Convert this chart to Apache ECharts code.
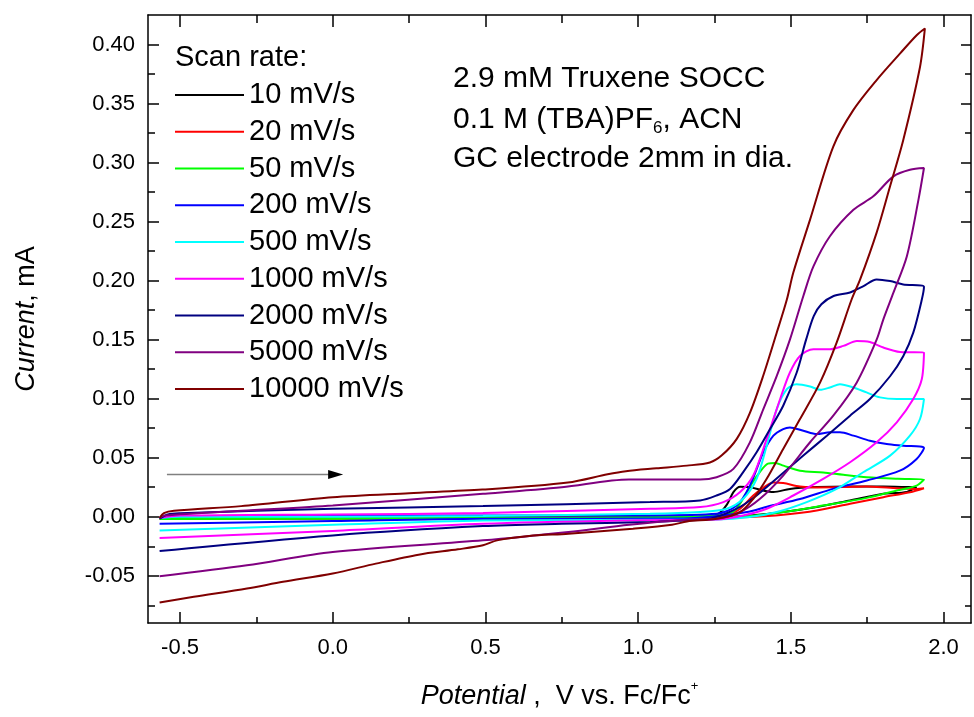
<!DOCTYPE html>
<html>
<head>
<meta charset="utf-8">
<title>Truxene SOCC cyclic voltammetry</title>
<script src="https://cdn.jsdelivr.net/npm/echarts@6.0.0/dist/echarts.min.js"></script>
<style>
  html, body { margin: 0; padding: 0; background: #fff; }
  #chart { width: 974px; height: 717px; }
</style>
</head>
<body>
<div id="chart"></div>
<script>
// Cyclic voltammograms: potential (V vs. Fc/Fc+) and current (mA), forward sweep then return sweep.
const e10 = [-0.567, -0.3, 0.0, 0.5, 1.0, 1.2, 1.26, 1.29, 1.312, 1.334, 1.366, 1.41, 1.443, 1.497, 1.585, 1.694, 1.803, 1.89, 1.91, 1.88, 1.803, 1.694, 1.585, 1.475, 1.366, 1.257, 1.0, 0.5, 0.0, -0.567];
const i10 = [-0.001, -0.0008, -0.0007, -0.0005, -0.0002, 0.0, 0.002, 0.010, 0.0209, 0.0255, 0.0251, 0.0222, 0.0209, 0.0236, 0.0251, 0.0256, 0.0256, 0.0251, 0.025, 0.021, 0.0194, 0.0138, 0.0082, 0.004, 0.0011, -0.0005, -0.0008, -0.001, -0.0012, -0.0015];

const e20 = [-0.567, 0.0, 0.5, 1.0, 1.257, 1.30, 1.334, 1.377, 1.41, 1.443, 1.475, 1.53, 1.585, 1.672, 1.748, 1.825, 1.912, 1.936, 1.89, 1.803, 1.694, 1.585, 1.475, 1.366, 1.257, 1.0, 0.5, 0.0, -0.567];
const i20 = [-0.001, -0.0009, -0.0008, -0.0006, -0.0003, 0.002, 0.0068, 0.018, 0.0245, 0.029, 0.0285, 0.0256, 0.0248, 0.0251, 0.0256, 0.0245, 0.0236, 0.0242, 0.0208, 0.0166, 0.011, 0.0053, 0.0017, -0.0003, -0.0011, -0.0013, -0.0015, -0.0017, -0.002];

const e50 = [-0.567, 0.0, 0.5, 1.039, 1.257, 1.31, 1.344, 1.372, 1.399, 1.425, 1.449, 1.476, 1.53, 1.606, 1.672, 1.749, 1.85, 1.936, 1.912, 1.847, 1.749, 1.606, 1.476, 1.366, 1.257, 0.5, -0.567];
const i50 = [-0.001, -0.0012, -0.0011, -0.0003, 0.0011, 0.004, 0.0152, 0.028, 0.038, 0.045, 0.0456, 0.0433, 0.039, 0.0375, 0.0355, 0.0335, 0.0322, 0.0315, 0.0264, 0.0222, 0.016, 0.0095, 0.004, 0.0006, -0.0008, -0.0015, -0.002];

const e200 = [-0.567, -0.5, 0.0, 0.492, 1.039, 1.257, 1.323, 1.366, 1.41, 1.443, 1.475, 1.497, 1.541, 1.585, 1.628, 1.661, 1.705, 1.759, 1.814, 1.868, 1.936, 1.912, 1.857, 1.749, 1.638, 1.53, 1.422, 1.366, 1.268, 1.15, 0.492, 0.0, -0.567];
const i200 = [-0.001, 0.0005, 0.001, 0.001, 0.0011, 0.0025, 0.0095, 0.0264, 0.0546, 0.0687, 0.0743, 0.0757, 0.0729, 0.0701, 0.0715, 0.0715, 0.0687, 0.0644, 0.0617, 0.0602, 0.0583, 0.049, 0.039, 0.0307, 0.0236, 0.015, 0.0085, 0.0045, 0.0008, -0.0015, -0.0017, -0.0036, -0.0059];

const e500 = [-0.567, -0.5, 0.0, 0.492, 1.039, 1.203, 1.29, 1.344, 1.388, 1.421, 1.454, 1.487, 1.519, 1.563, 1.596, 1.628, 1.661, 1.705, 1.748, 1.792, 1.847, 1.936, 1.923, 1.89, 1.825, 1.737, 1.65, 1.552, 1.454, 1.366, 1.257, 0.492, 0.0, -0.567];
const i500 = [-0.001, 0.0, 0.0, 0.0006, 0.0025, 0.004, 0.0068, 0.0152, 0.0321, 0.0602, 0.0912, 0.108, 0.1123, 0.1104, 0.1075, 0.1095, 0.1123, 0.1095, 0.1053, 0.1011, 0.0997, 0.0997, 0.0828, 0.0687, 0.0518, 0.0377, 0.0236, 0.0124, 0.004, -0.0003, -0.0023, -0.0031, -0.0068, -0.0116];

const e1000 = [-0.567, -0.5, 0.0, 0.492, 1.039, 1.203, 1.279, 1.334, 1.377, 1.421, 1.465, 1.497, 1.53, 1.574, 1.628, 1.672, 1.716, 1.759, 1.803, 1.858, 1.936, 1.929, 1.901, 1.847, 1.781, 1.694, 1.606, 1.508, 1.421, 1.344, 1.257, 1.0, 0.492, 0.0, -0.567];
const i1000 = [-0.001, 0.001, 0.002, 0.0031, 0.0068, 0.0082, 0.0124, 0.0209, 0.0349, 0.0659, 0.0997, 0.1222, 0.1362, 0.1419, 0.1419, 0.1447, 0.1489, 0.148, 0.1433, 0.1396, 0.1391, 0.1166, 0.0997, 0.080, 0.0631, 0.0462, 0.0321, 0.018, 0.0068, 0.0011, -0.0023, -0.003, -0.006, -0.012, -0.018];

const e2000 = [-0.567, -0.54, -0.5, 0.0, 0.492, 1.039, 1.203, 1.257, 1.301, 1.344, 1.388, 1.432, 1.475, 1.519, 1.55, 1.575, 1.6, 1.64, 1.694, 1.738, 1.781, 1.825, 1.868, 1.936, 1.929, 1.901, 1.868, 1.825, 1.759, 1.694, 1.618, 1.541, 1.465, 1.388, 1.323, 1.235, 1.148, 1.04, 0.75, 0.492, 0.0, -0.567];
const i2000 = [-0.0017, 0.002, 0.003, 0.0068, 0.009, 0.0124, 0.0138, 0.018, 0.0236, 0.0378, 0.0546, 0.0743, 0.094, 0.122, 0.15, 0.17, 0.18, 0.187, 0.19, 0.1954, 0.201, 0.1996, 0.1968, 0.1948, 0.184, 0.156, 0.136, 0.119, 0.0997, 0.0856, 0.0687, 0.0518, 0.0349, 0.018, 0.0068, -0.0017, -0.0031, -0.0045, -0.006, -0.0079, -0.0158, -0.029];

const e5000 = [-0.567, -0.55, -0.3, 0.0, 0.492, 0.75, 0.97, 1.203, 1.257, 1.312, 1.366, 1.41, 1.454, 1.497, 1.541, 1.574, 1.628, 1.705, 1.77, 1.836, 1.89, 1.936, 1.918, 1.88, 1.836, 1.803, 1.781, 1.716, 1.639, 1.563, 1.475, 1.399, 1.334, 1.257, 1.158, 0.971, 0.772, 0.492, 0.0, -0.281, -0.567];
const i5000 = [-0.001, 0.001, 0.005, 0.0095, 0.0194, 0.025, 0.0315, 0.0315, 0.0335, 0.0405, 0.063, 0.0912, 0.1193, 0.15, 0.187, 0.212, 0.2376, 0.26, 0.2714, 0.2883, 0.2939, 0.2954, 0.2686, 0.2207, 0.1898, 0.1672, 0.15, 0.1138, 0.0856, 0.0631, 0.0349, 0.0152, 0.004, -0.0017, -0.0025, -0.0068, -0.0129, -0.02, -0.0298, -0.0411, -0.0504];

const e10000 = [-0.567, -0.553, -0.52, -0.3, 0.0, 0.25, 0.49, 0.77, 0.90, 0.96, 1.06, 1.16, 1.235, 1.274, 1.323, 1.366, 1.409, 1.454, 1.487, 1.508, 1.563, 1.639, 1.705, 1.781, 1.858, 1.912, 1.939, 1.923, 1.868, 1.825, 1.781, 1.727, 1.699, 1.65, 1.596, 1.53, 1.475, 1.421, 1.377, 1.334, 1.257, 1.16, 1.111, 0.983, 0.772, 0.643, 0.538, 0.492, 0.41, 0.281, 0.141, 0.0, -0.163, -0.281, -0.455, -0.567];
const i10000 = [-0.001, 0.003, 0.005, 0.009, 0.0166, 0.02, 0.023, 0.029, 0.036, 0.0386, 0.041, 0.0433, 0.046, 0.052, 0.066, 0.088, 0.119, 0.156, 0.184, 0.2067, 0.2517, 0.3136, 0.3446, 0.3699, 0.3925, 0.4079, 0.4136, 0.381, 0.319, 0.28, 0.2407, 0.201, 0.184, 0.1475, 0.1138, 0.0827, 0.0574, 0.0321, 0.0152, 0.004, -0.0017, -0.004, -0.0068, -0.0101, -0.0144, -0.0163, -0.02, -0.0242, -0.0276, -0.0321, -0.0397, -0.0481, -0.0551, -0.0608, -0.0678, -0.0726];

const scanRates = ['10 mV/s', '20 mV/s', '50 mV/s', '200 mV/s', '500 mV/s', '1000 mV/s', '2000 mV/s', '5000 mV/s', '10000 mV/s'];
const potentials = [e10, e20, e50, e200, e500, e1000, e2000, e5000, e10000];
const currents = [i10, i20, i50, i200, i500, i1000, i2000, i5000, i10000];
const colors = ['#000000', '#ff0000', '#00ff00', '#0000ff', '#00ffff', '#ff00ff', '#000080', '#800080', '#800000'];

// Axis ticks and labels
const xMajor = [-0.5, 0.0, 0.5, 1.0, 1.5, 2.0];
const xMinor = [-0.25, 0.25, 0.75, 1.25, 1.75];
const yMajor = [-0.05, 0.0, 0.05, 0.10, 0.15, 0.20, 0.25, 0.30, 0.35, 0.40];
const yMinor = [-0.075, -0.025, 0.025, 0.075, 0.125, 0.175, 0.225, 0.275, 0.325, 0.375];
const xRange = [-0.605, 2.09];
const yRange = [-0.09, 0.425];

// Sweep direction arrow (data coordinates)
const arrowFrom = [-0.543, 0.0357];
const arrowTo = [0.034, 0.0357];

const FONT = '"Liberation Sans", Arial, Helvetica, sans-serif';

function tickAxis(kind, position, values, length, showLine) {
  const range = kind === 'x' ? xRange : yRange;
  return {
    type: 'value',
    position: position,
    min: range[0],
    max: range[1],
    splitLine: { show: false },
    axisLine: { show: showLine, onZero: false, lineStyle: { color: '#000', width: 1.5 } },
    axisTick: { show: true, inside: true, length: length, customValues: values, lineStyle: { color: '#000', width: 1.5 } },
    axisLabel: { show: false },
    silent: true
  };
}

const chart = echarts.init(document.getElementById('chart'), null, { renderer: 'canvas' });

const xMain = tickAxis('x', 'bottom', xMajor, 11, true);
xMain.axisLabel = {
  show: true, customValues: xMajor, margin: 14,
  formatter: v => v.toFixed(1),
  fontSize: 22, fontFamily: FONT, color: '#000'
};
xMain.name = '{i|Potential}{n| ,  V vs. Fc/Fc}{sup|+}';
xMain.nameLocation = 'middle';
xMain.nameGap = 57;
xMain.nameTextStyle = {
  fontFamily: FONT, color: '#000', fontSize: 27,
  rich: {
    i: { fontFamily: FONT, fontSize: 27, fontStyle: 'italic', color: '#000', lineHeight: 30, verticalAlign: 'bottom' },
    n: { fontFamily: FONT, fontSize: 27, color: '#000', lineHeight: 30, verticalAlign: 'bottom' },
    sup: { fontFamily: FONT, fontSize: 13, color: '#000', lineHeight: 13, padding: [0, 0, 19, 0], verticalAlign: 'top' }
  }
};

const yMain = tickAxis('y', 'left', yMajor, 11, true);
yMain.axisLabel = {
  show: true, customValues: yMajor, margin: 13,
  formatter: v => v.toFixed(2),
  fontSize: 22, fontFamily: FONT, color: '#000'
};
yMain.name = '{i|Current}{n|, mA}';
yMain.nameLocation = 'middle';
yMain.nameGap = 108;
yMain.nameTextStyle = {
  fontFamily: FONT, color: '#000', fontSize: 27,
  rich: {
    i: { fontFamily: FONT, fontSize: 27, fontStyle: 'italic', color: '#000' },
    n: { fontFamily: FONT, fontSize: 27, color: '#000' }
  }
};

const option = {
  backgroundColor: '#ffffff',
  animation: false,
  grid: { left: 148, right: 3, top: 15, bottom: 92, containLabel: false },
  xAxis: [
    xMain,
    tickAxis('x', 'bottom', xMinor, 6, false),
    tickAxis('x', 'top', xMajor, 12, true),
    tickAxis('x', 'top', xMinor, 8, false)
  ],
  yAxis: [
    yMain,
    tickAxis('y', 'left', yMinor, 7, false),
    tickAxis('y', 'right', yMajor, 10, true),
    tickAxis('y', 'right', yMinor, 6, false)
  ],
  legend: {
    orient: 'vertical',
    left: 175,
    top: 80.5,
    padding: 0,
    itemWidth: 69,
    itemHeight: 2,
    itemGap: 7.75,
    icon: 'rect',
    selectedMode: false,
    data: scanRates,
    textStyle: { fontFamily: FONT, fontSize: 29, color: '#000' }
  },
  series: scanRates.map((name, k) => ({
    name: name,
    type: 'line',
    xAxisIndex: 0,
    yAxisIndex: 0,
    data: potentials[k].map((e, j) => [e, currents[k][j]]),
    showSymbol: false,
    smooth: 0.3,
    clip: true,
    lineStyle: { color: colors[k], width: 2 },
    itemStyle: { color: colors[k] },
    emphasis: { disabled: true },
    z: 2 + k
  }))
};

chart.setOption(option);

// Text annotations and the sweep-direction arrow
const p0 = chart.convertToPixel({ xAxisIndex: 0, yAxisIndex: 0 }, arrowFrom);
const p1 = chart.convertToPixel({ xAxisIndex: 0, yAxisIndex: 0 }, arrowTo);
const headLen = 15, headHalf = 4.5;

chart.setOption({
  graphic: [
    {
      type: 'text', silent: true,
      style: { x: 175, y: 58, text: 'Scan rate:', fontFamily: FONT, fontSize: 29, fill: '#000', textVerticalAlign: 'middle' }
    },
    {
      type: 'text', silent: true,
      style: { x: 453, y: 79, text: '2.9 mM Truxene SOCC', fontFamily: FONT, fontSize: 30, fill: '#000', textVerticalAlign: 'middle' }
    },
    {
      type: 'text', silent: true,
      style: {
        x: 453, y: 120.5, text: '{n|0.1 M (TBA)PF}{sub|6}{n|, ACN}', textVerticalAlign: 'middle',
        rich: {
          n: { fontFamily: FONT, fontSize: 30, fill: '#000', lineHeight: 32, verticalAlign: 'top' },
          sub: { fontFamily: FONT, fontSize: 17, fill: '#000', lineHeight: 17, padding: [22, 0, 0, 0], verticalAlign: 'bottom' }
        }
      }
    },
    {
      type: 'text', silent: true,
      style: { x: 453, y: 159, text: 'GC electrode 2mm in dia.', fontFamily: FONT, fontSize: 30, fill: '#000', textVerticalAlign: 'middle' }
    },
    {
      type: 'line', silent: true,
      shape: { x1: p0[0], y1: p0[1], x2: p1[0] - headLen + 2, y2: p1[1] },
      style: { stroke: '#808080', lineWidth: 1.5 }
    },
    {
      type: 'polygon', silent: true,
      shape: { points: [[p1[0] - headLen, p1[1] - headHalf], [p1[0], p1[1]], [p1[0] - headLen, p1[1] + headHalf]] },
      style: { fill: '#000' }
    }
  ]
});
</script>
</body>
</html>
